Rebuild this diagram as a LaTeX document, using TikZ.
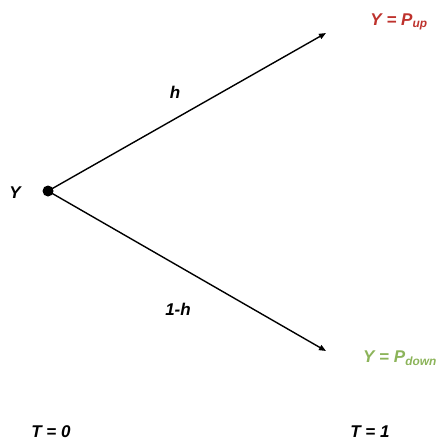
\documentclass[tikz,border=0pt]{standalone}
\usepackage{fontspec}
\setmainfont{Liberation Sans}
\usetikzlibrary{arrows.meta}
\definecolor{upred}{RGB}{190,50,45}
\definecolor{downgreen}{RGB}{140,180,90}
\tikzset{
  lbl/.style={font=\fontsize{17}{19}\selectfont\bfseries\itshape, inner sep=0pt},
  branch/.style={line width=1.4pt, -{Triangle[length=7pt,width=5.5pt]}}
}
\begin{document}
\begin{tikzpicture}[x=1pt,y=-1pt]
\useasboundingbox (0,0) rectangle (438,441);
\node[circle, fill=black, minimum size=11pt, inner sep=0pt] (y0) at (48,191) {};
\coordinate (up) at (326,33);
\coordinate (down) at (326,351);
\draw[branch] (y0.center) -- (up);
\draw[branch] (y0.center) -- (down);
\node[lbl] (ylab) at (15,193) {Y};
\node[lbl] (hlab) at (175,92) {h};
\node[lbl] (hmlab) at (178,309) {1-h};
\node[lbl, text=upred] (pup) at (399,22) {Y = P\textsubscript{up}};
\node[lbl, text=downgreen] (pdown) at (400,358) {Y = P\textsubscript{down}};
\node[lbl] (t0) at (51,432) {T = 0};
\node[lbl] (t1) at (370,432) {T = 1};
\end{tikzpicture}
\end{document}
